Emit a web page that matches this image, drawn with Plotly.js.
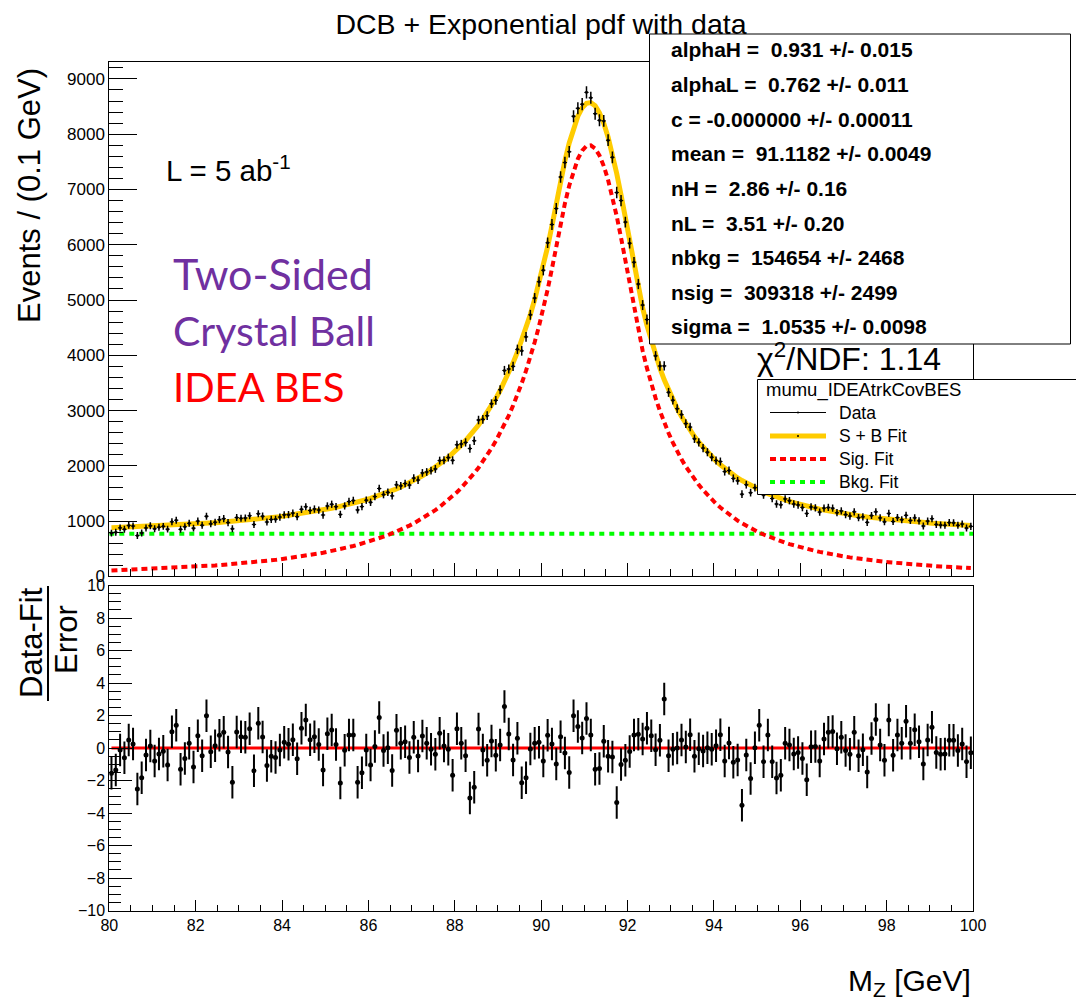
<!DOCTYPE html>
<html><head><meta charset="utf-8">
<script src="https://cdn.plot.ly/plotly-3.0.1.min.js"></script>
<style>html,body{margin:0;padding:0;background:#fff;} #chart{width:1076px;height:1002px;}</style>
</head><body><div id="chart"></div>
<script>
// ---- binning (categories of the x axis) ----
const xLow = 80, binWidth = 0.1, nBins = 200;
const binCenters = Array.from({length: nBins}, (_, i) => +(xLow + binWidth * (i + 0.5)).toFixed(2));

// ---- data: events per 0.1 GeV bin ----
const dataCounts = [
783,798,878,851,923,911,739,786,877,915,
861,891,905,855,988,1017,851,898,960,873,
1000,926,1088,951,980,1027,1045,973,861,1065,
1053,1057,1098,940,1134,1089,984,1030,1034,1073,
1114,1117,1145,1081,1214,1260,1193,1219,1201,1111,
1274,1305,1262,1122,1274,1355,1375,1203,1263,1379,
1341,1444,1590,1480,1521,1457,1658,1638,1681,1652,
1778,1742,1872,1889,1913,1944,2095,2100,2149,2100,
2382,2396,2423,2314,2455,2829,2841,2907,3124,3185,
3377,3726,3752,3800,4107,4080,4333,4732,5035,5331,
5539,6036,6366,6655,7225,7487,7682,8325,8469,8543,
8756,8658,8371,8250,8240,7891,7581,6944,6799,6409,
6028,5684,5289,4908,4647,4321,3990,3806,3808,3329,
3188,3035,2929,2764,2701,2490,2426,2321,2247,2156,
2097,2078,1896,1915,1773,1730,1488,1659,1515,1605,
1663,1473,1553,1409,1310,1295,1402,1370,1309,1293,
1247,1140,1256,1240,1163,1236,1248,1235,1152,1185,
1119,1092,1168,1063,1077,978,1101,1168,1058,988,
1140,992,1065,1026,1105,1012,1059,1005,912,1000,
1044,941,928,925,973,969,925,947,874,905];

const dataErrors = [
63,63,63,63,63,63,63,63,63,63,
63,63,63,63,63,63,63,63,63,63,
64,64,64,64,64,64,64,64,64,64,
64,64,64,64,64,65,65,65,65,65,
65,65,65,65,65,65.5,65.5,65.5,65.5,66,
66,66,66,66,66,66.5,66.5,66.5,67,67,
67,67,67.5,67.5,67.5,68,68,68.5,68.5,69,
69,69.5,69.5,70,70,71,71,72,72,73,
73.5,74,75,75.5,76,77,77.5,78.5,79,80,
81,82,83,84.5,85.5,87,88,89.5,91,92.5,
94,96,98,100.5,102.5,104.5,106,107.5,108.5,109,
109.5,109.5,109,108.5,107.5,106.5,105,103,101,99,
97,94.5,92.5,90.5,88.5,87,85.5,84,83,81.5,
80.5,79.5,78.5,77.5,76.5,76,75,74.5,74,73.5,
73,72.5,72,71.5,71,70.5,70,70,69.5,69,
69,68.5,68.5,68,68,67.5,67.5,67,67,67,
66.5,66.5,66,66,66,65.5,65.5,65.5,65.5,65,
65,65,65,65,64.5,64.5,64.5,64.5,64.5,64.5,
64,64,64,64,64,64,64,64,64,63.5,
63.5,63.5,63.5,63.5,63.5,63.5,63.5,63.5,63.5,63.5];

// ---- S + B fit curve, per bin ----
const sbFit = [
881,884,886,889,892,895,898,901,904,907,
911,914,918,921,925,929,933,938,942,947,
951,956,961,966,971,977,983,989,995,1002,
1008,1015,1022,1030,1037,1045,1054,1063,1072,1081,
1091,1102,1112,1124,1135,1147,1160,1173,1187,1201,
1216,1232,1248,1265,1283,1302,1322,1343,1365,1387,
1411,1437,1464,1491,1520,1551,1584,1618,1654,1692,
1732,1776,1821,1869,1919,1972,2030,2091,2155,2222,
2295,2375,2458,2546,2638,2739,2850,2967,3090,3221,
3362,3517,3681,3863,4056,4266,4494,4737,5009,5299,
5614,5961,6341,6754,7153,7519,7841,8112,8326,8475,
8558,8570,8513,8387,8196,7945,7640,7289,6901,6484,
6048,5608,5211,4857,4540,4255,3999,3767,3557,3367,
3194,3035,2891,2759,2638,2529,2429,2335,2246,2162,
2087,2019,1954,1893,1835,1782,1734,1689,1645,1604,
1566,1531,1498,1466,1436,1408,1382,1357,1334,1311,
1290,1270,1251,1233,1216,1199,1184,1169,1155,1142,
1129,1117,1105,1094,1083,1073,1064,1055,1046,1037,
1029,1021,1014,1007,999,993,987,980,975,969,
963,958,953,948,943,939,935,931,927,923];

// ---- signal fit curve, per bin ----
const sigFit = [
108,111,113,116,119,122,125,128,131,134,
138,141,145,148,152,156,160,165,169,174,
178,183,188,193,198,204,210,216,222,229,
235,242,249,257,264,272,281,290,299,308,
318,329,339,351,362,374,387,400,414,428,
443,459,475,492,510,529,549,570,592,614,
638,664,691,718,747,778,811,845,881,919,
959,1003,1048,1096,1146,1199,1257,1318,1382,1449,
1522,1602,1685,1773,1865,1966,2077,2194,2317,2448,
2589,2744,2908,3090,3283,3493,3721,3964,4236,4526,
4841,5188,5568,5981,6380,6746,7068,7339,7553,7702,
7785,7797,7740,7614,7423,7172,6867,6516,6128,5711,
5275,4835,4438,4084,3767,3482,3226,2994,2784,2594,
2421,2262,2118,1986,1865,1756,1656,1562,1473,1389,
1314,1246,1181,1120,1062,1009,961,916,872,831,
793,758,725,693,663,635,609,584,561,538,
517,497,478,460,443,426,411,396,382,369,
356,344,332,321,310,300,291,282,273,264,
256,248,241,234,226,220,214,207,202,196,
190,185,180,175,170,166,162,158,154,150];

// ---- background fit (flat) ----
const bkgFitX = [80, 100];
const bkgFitY = [773, 773];

// ---- pulls (Data-Fit)/Error ----
const pulls = [
-1.56,-1.36,-0.12,-0.6,0.49,0.25,-2.53,-1.83,-0.43,0.12,
-0.8,-0.37,-0.2,-1.05,1.0,1.4,-1.3,-0.64,0.29,-1.17,
0.76,-0.47,1.98,-0.23,0.14,0.78,0.97,-0.25,-2.1,0.99,
0.7,0.66,1.19,-1.4,1.52,0.68,-1.07,-0.51,-0.58,-0.12,
0.35,0.23,0.51,-0.66,1.21,1.73,0.51,0.7,0.21,-1.36,
0.88,1.11,0.21,-2.16,-0.14,0.8,0.8,-2.1,-1.52,-0.12,
-1.05,0.10,1.87,-0.16,0.02,-1.38,1.09,0.29,0.39,-0.58,
0.66,-0.49,0.74,0.29,-0.08,-0.39,0.91,0.12,-0.08,-1.67,
1.19,0.29,-0.47,-3.07,-2.41,1.17,-0.12,-0.76,0.43,-0.45,
0.19,2.55,0.86,-0.74,0.6,-2.14,-1.83,-0.06,0.29,0.35,
-0.8,0.78,0.25,-0.99,0.7,-0.31,-1.5,1.98,1.32,0.62,
1.81,0.8,-1.3,-1.26,0.41,-0.51,-0.56,-3.35,-1.01,-0.76,
-0.21,0.8,0.84,0.56,1.21,0.76,-0.1,0.47,3.02,-0.47,
-0.08,0,0.49,0.06,0.82,-0.51,-0.04,-0.19,0.02,-0.08,
0.14,0.82,-0.8,0.31,-0.88,-0.74,-3.52,-0.43,-1.87,0.02,
1.4,-0.84,0.8,-0.84,-1.85,-1.67,0.29,0.19,-0.37,-0.27,
-0.64,-1.95,0.08,0.10,-0.8,0.56,0.97,1.01,-0.04,0.66,
-0.16,-0.39,0.97,-0.47,-0.1,-1.48,0.58,1.75,0.19,-0.76,
1.73,-0.45,0.8,0.29,1.65,0.29,1.13,0.39,-0.99,0.49,
1.28,-0.27,-0.39,-0.37,0.47,0.47,-0.16,0.25,-0.84,-0.29];
const pullZeroX = [80.05, 99.95];
const pullZeroY = [0, 0];

// ---- texts ----
const fitParamLines = [
"alphaH =  0.931 +/- 0.015",
"alphaL =  0.762 +/- 0.011",
"c = -0.000000 +/- 0.00011",
"mean =  91.1182 +/- 0.0049",
"nH =  2.86 +/- 0.16",
"nL =  3.51 +/- 0.20",
"nbkg =  154654 +/- 2468",
"nsig =  309318 +/- 2499",
"sigma =  1.0535 +/- 0.0098"];
const legendHeader = "mumu_IDEAtrkCovBES";
const legendLabels = ["Data", "S + B Fit", "Sig. Fit", "Bkg. Fit"];
const chi2Text = "\u03c7<sup>2</sup>/NDF: 1.14";

// ---- layout helpers (pixel -> paper) ----
const W = 1076, H = 1002;
const PX = x => x / W;
const PY = y => 1 - y / H;
const FONT = "Liberation Sans, Arial, Helvetica, sans-serif";

const traces = [
  {x: bkgFitX, y: bkgFitY, xaxis: 'x', yaxis: 'y', mode: 'lines',
   line: {color: '#00ff00', width: 4, dash: '5px,5px'}, hoverinfo: 'skip'},
  {x: binCenters, y: sigFit, xaxis: 'x', yaxis: 'y', mode: 'lines',
   line: {color: '#ff0000', width: 4, dash: '6px,4px'}, hoverinfo: 'skip'},
  {x: binCenters, y: sbFit, xaxis: 'x', yaxis: 'y', mode: 'lines',
   line: {color: '#ffcc00', width: 5}, hoverinfo: 'skip'},
  {x: binCenters, y: dataCounts, xaxis: 'x', yaxis: 'y', mode: 'markers',
   marker: {color: 'black', size: 3},
   error_y: {type: 'data', array: dataErrors, color: 'black', thickness: 1.5, width: 0},
   error_x: {type: 'constant', value: binWidth / 2, color: 'black', thickness: 1, width: 0}},
  {x: pullZeroX, y: pullZeroY, xaxis: 'x2', yaxis: 'y2', mode: 'lines',
   line: {color: '#ff0000', width: 3}, hoverinfo: 'skip'},
  {x: binCenters, y: pulls, xaxis: 'x2', yaxis: 'y2', mode: 'markers',
   marker: {color: 'black', size: 5},
   error_y: {type: 'constant', value: 1, color: 'black', thickness: 2, width: 0}}
];

const xDom = [PX(109.3), PX(973)];
const axisCommon = {showline: true, mirror: true, linecolor: 'black', linewidth: 1,
  showgrid: false, zeroline: false, ticks: 'inside', tickcolor: 'black', tickwidth: 1,
  tickfont: {family: FONT, size: 16, color: 'black'}};

const layout = {
  width: W, height: H, margin: {l: 0, r: 0, t: 0, b: 0, pad: 0},
  paper_bgcolor: 'white', plot_bgcolor: 'white', showlegend: false,
  title: {text: 'DCB + Exponential pdf with data', font: {family: FONT, size: 28.5, color: 'black'},
          x: PX(541), xanchor: 'center', y: PY(24), yanchor: 'middle', xref: 'paper', yref: 'paper'},
  xaxis: Object.assign({}, axisCommon, {domain: xDom, range: [80, 100], anchor: 'y',
    dtick: 2, tick0: 80, ticklen: 13, showticklabels: false,
    minor: {ticks: 'inside', dtick: 0.5, ticklen: 7, tickcolor: 'black', tickwidth: 1}}),
  yaxis: Object.assign({}, axisCommon, {domain: [PY(576.4), PY(62.3)], range: [0, 9300], anchor: 'x',
    dtick: 1000, tick0: 0, ticklen: 28, tickfont: {family: FONT, size: 17, color: 'black'},
    minor: {ticks: 'inside', dtick: 200, ticklen: 14, tickcolor: 'black', tickwidth: 1}}),
  xaxis2: Object.assign({}, axisCommon, {domain: xDom, range: [80, 100], anchor: 'y2',
    dtick: 2, tick0: 80, ticklen: 11,
    minor: {ticks: 'inside', dtick: 0.5, ticklen: 6, tickcolor: 'black', tickwidth: 1}}),
  yaxis2: Object.assign({}, axisCommon, {domain: [PY(910.5), PY(585.5)], range: [-10, 10], anchor: 'x2',
    dtick: 2, tick0: 0, ticklen: 23,
    minor: {ticks: 'inside', dtick: 0.5, ticklen: 12, tickcolor: 'black', tickwidth: 1}}),
  shapes: [], annotations: []
};

function ann(text, x, y, opts) {
  return Object.assign({text: text, x: PX(x), y: PY(y), xref: 'paper', yref: 'paper',
    showarrow: false, xanchor: 'left', yanchor: 'middle',
    font: {family: FONT, size: 18, color: 'black'}}, opts || {});
}

// parameter box
layout.shapes.push({type: 'rect', xref: 'paper', yref: 'paper', x0: PX(649.5), x1: PX(1070.5),
  y0: PY(344), y1: PY(34), fillcolor: 'white', line: {color: 'black', width: 1}, layer: 'above'});
fitParamLines.forEach((t, k) => {
  layout.annotations.push(ann('<b>' + t.replace(/  /g, ' \u00a0') + '</b>', 669, 50 + k * 34.6,
    {font: {family: FONT, size: 21, color: 'black'}}));
});

// chi2
layout.annotations.push(ann(chi2Text, 755, 357, {font: {family: FONT, size: 32, color: 'black'}}));

// legend box
layout.shapes.push({type: 'rect', xref: 'paper', yref: 'paper', x0: PX(757.5), x1: PX(1085),
  y0: PY(494.5), y1: PY(379.5), fillcolor: 'white', line: {color: 'black', width: 1}, layer: 'above'});
layout.annotations.push(ann(legendHeader, 764, 390.5, {font: {family: FONT, size: 18.5, color: 'black'}}));
const legY = [412.5, 436, 459, 482];
const legStyles = [
  {color: 'black', width: 1},
  {color: '#ffcc00', width: 5},
  {color: '#ff0000', width: 4, dash: '6px,4px'},
  {color: '#00ff00', width: 4, dash: '5px,5px'}];
legendLabels.forEach((t, k) => {
  layout.shapes.push({type: 'line', xref: 'paper', yref: 'paper', x0: PX(770), x1: PX(826),
    y0: PY(legY[k]), y1: PY(legY[k]), line: legStyles[k], layer: 'above'});
  if (k < 2) layout.shapes.push({type: 'circle', xref: 'paper', yref: 'paper',
    x0: PX(797), x1: PX(799), y0: PY(legY[k] + 1), y1: PY(legY[k] - 1),
    fillcolor: 'black', line: {color: 'black', width: 0}, layer: 'above'});
  layout.annotations.push(ann(t, 837, legY[k], {font: {family: FONT, size: 17.5, color: 'black'}}));
});

// labels on the plot
layout.annotations.push(ann('L = 5 ab<sup>-1</sup>', 164, 168, {font: {family: FONT, size: 29.5, color: 'black'}}));
layout.annotations.push(ann('Two-Sided', 171, 273, {font: {family: 'Lato, Open Sans, sans-serif', size: 43, color: '#7030a0'}}));
layout.annotations.push(ann('Crystal Ball', 171, 330, {font: {family: 'Lato, Open Sans, sans-serif', size: 41, color: '#7030a0'}}));
layout.annotations.push(ann('IDEA BES', 171, 387, {font: {family: 'Lato, Open Sans, sans-serif', size: 40, color: '#ff0000'}}));

// axis titles
layout.annotations.push(ann('Events / (0.1 GeV)', 29, 196, {xanchor: 'center', textangle: -90,
  font: {family: FONT, size: 31, color: 'black'}}));
layout.annotations.push(ann('Data-Fit', 31, 643, {xanchor: 'center', textangle: -90,
  font: {family: FONT, size: 31, color: 'black'}}));
layout.annotations.push(ann('Error', 66, 640, {xanchor: 'center', textangle: -90,
  font: {family: FONT, size: 31, color: 'black'}}));
layout.shapes.push({type: 'line', xref: 'paper', yref: 'paper', x0: PX(48), x1: PX(48),
  y0: PY(701), y1: PY(586), line: {color: 'black', width: 2}, layer: 'above'});
layout.annotations.push(ann('M<sub>Z</sub> [GeV]', 973, 982, {xanchor: 'right',
  font: {family: FONT, size: 30, color: 'black'}}));

Plotly.newPlot('chart', traces, layout, {staticPlot: true, displayModeBar: false});
</script>
</body></html>
